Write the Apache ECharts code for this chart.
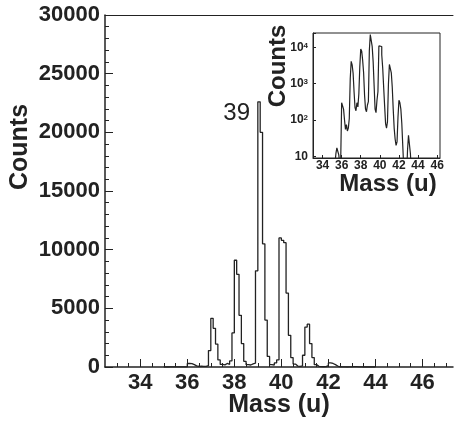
<!DOCTYPE html>
<html lang="en">
<head>
    <meta charset="UTF-8">
    <title>mass-spectrum</title>
    <script src="https://cdn.jsdelivr.net/npm/echarts@6.0.0/dist/echarts.min.js"></script>
    <style>
        body { margin: 0; background: #fff; }
    </style>
</head>
<body>
    <div id="main" style="width: 454px;height:424px;"></div>

    <script>
        // histogram: bins of 0.1 u starting at 35.0 u, one row per unit of mass
        var binStart = 35.0;
        var binWidth = 0.1;
        var counts = [
            1, 2, 3, 6, 12, 17, 16, 11, 6, 7,                              // 35.x
            300, 280, 200, 100, 55, 75, 50, 60, 110, 1400,                 // 36.x
            4150, 3300, 1950, 600, 220, 180, 300, 230, 520, 2900,          // 37.x
            9100, 7900, 4400, 2000, 480, 200, 170, 260, 320, 8200,         // 38.x
            22600, 20000, 10500, 4000, 900, 200, 160, 350, 600, 11000,     // 39.x
            10800, 10600, 6300, 2700, 800, 250, 80, 60, 90, 1000,          // 40.x
            3400, 3650, 2000, 800, 200, 60, 30, 20, 25, 120,               // 41.x
            350, 300, 200, 80, 20, 5, 3, 2, 3, 15,                         // 42.x
            38, 35, 12, 4, 2, 1, 1, 1, 1, 1                                // 43.x
        ];

        // tick labels
        var massLabels = [34, 36, 38, 40, 42, 44, 46];
        var massMinor = [];
        for (var m = 33; m <= 47; m += 0.5) massMinor.push(m);

        // peak annotation
        var peakName = '39';
        var peakNamePos = [38.1, 21600];

        var histPoints = counts.map(function (c, i) {
            return [+(binStart + i * binWidth).toFixed(2), c];
        });
        histPoints.push([+(binStart + counts.length * binWidth).toFixed(2), counts[counts.length - 1]]);

        var ink = '#222';
        var font = 'Liberation Sans';
        var axisLine = { show: true, lineStyle: { color: ink, width: 1.5 } };
        var titleStyle = { fontFamily: font, fontWeight: 'bold', fontSize: 25, color: ink };

        var myChart = echarts.init(document.getElementById('main'));

        var option = {
            animation: false,
            grid: [
                { left: 105, top: 15, right: 1, bottom: 57, containLabel: false, outerBoundsMode: 'none' },
                { left: 313, top: 33, width: 127, height: 125, show: true, containLabel: false, outerBoundsMode: 'none',
                  backgroundColor: '#fff', borderColor: ink, borderWidth: 1 }
            ],
            xAxis: [
                {   // main: minor ticks + line + title
                    type: 'value', gridIndex: 0, position: 'bottom',
                    min: 32.5, max: 47.3,
                    axisLine: axisLine,
                    axisTick: { show: true, inside: true, length: 4, customValues: massMinor, lineStyle: { color: ink } },
                    axisLabel: { show: false },
                    splitLine: { show: false },
                    name: 'Mass (u)', nameLocation: 'middle', nameGap: 26, nameMoveOverlap: false,
                    nameTextStyle: titleStyle
                },
                {   // main: major ticks + labels
                    type: 'value', gridIndex: 0, position: 'bottom',
                    min: 32.5, max: 47.3,
                    axisLine: { show: false },
                    axisTick: { show: true, inside: true, length: 8, customValues: massLabels, lineStyle: { color: ink } },
                    axisLabel: { customValues: massLabels, margin: 5, fontFamily: font, fontWeight: 'bold', fontSize: 22, color: ink },
                    splitLine: { show: false }
                },
                {   // frame top
                    type: 'value', gridIndex: 0, position: 'top',
                    min: 32.5, max: 47.3,
                    axisLine: { show: true, lineStyle: { color: ink, width: 1 } },
                    axisTick: { show: false }, axisLabel: { show: false }, splitLine: { show: false }
                },
                {   // inset
                    type: 'value', gridIndex: 1,
                    min: 33, max: 46.3,
                    axisLine: { show: true, lineStyle: { color: ink, width: 1 } },
                    axisTick: { show: true, inside: true, length: 3, customValues: massLabels, lineStyle: { color: ink } },
                    axisLabel: { customValues: massLabels, margin: 2, fontFamily: font, fontWeight: 'bold', fontSize: 12, color: ink },
                    splitLine: { show: false },
                    name: 'Mass (u)', nameLocation: 'middle', nameGap: 14, nameMoveOverlap: false,
                    nameTextStyle: Object.assign({}, titleStyle, { fontSize: 24, padding: [0, 0, 0, 23] })
                }
            ],
            yAxis: [
                {
                    type: 'value', gridIndex: 0,
                    min: 0, max: 30000, interval: 5000,
                    axisLine: axisLine,
                    axisTick: { show: true, inside: true, length: 8, lineStyle: { color: ink } },
                    minorTick: { show: true, splitNumber: 5, length: 4, lineStyle: { color: ink } },
                    axisLabel: { margin: 5, fontFamily: font, fontWeight: 'bold', fontSize: 22, color: ink,
                                 formatter: function (v) { return String(v); } },
                    splitLine: { show: false },
                    name: 'Counts', nameLocation: 'middle', nameGap: 72, nameMoveOverlap: false,
                    nameTextStyle: Object.assign({}, titleStyle, { padding: [0, 0, 0, 88] })
                },
                {
                    type: 'log', logBase: 10, gridIndex: 1,
                    min: 9, max: 25000,
                    axisLine: { show: true, lineStyle: { color: ink, width: 1 } },
                    axisTick: { show: true, inside: true, length: 3, lineStyle: { color: ink } },
                    axisLabel: {
                        margin: 5, fontFamily: font, fontWeight: 'bold', fontSize: 12, color: ink,
                        formatter: function (v) {
                            var l = Math.log10(v), e = Math.round(l);
                            if (Math.abs(l - e) > 1e-6) return '';
                            return e === 1 ? '10' : '10{sup|' + e + '}';
                        },
                        rich: { sup: { fontFamily: font, fontWeight: 'bold', fontSize: 8, verticalAlign: 'top', color: ink } }
                    },
                    splitLine: { show: false },
                    name: 'Counts', nameLocation: 'middle', nameGap: 23, nameMoveOverlap: false,
                    nameTextStyle: Object.assign({}, titleStyle, { fontSize: 24, padding: [0, 0, 0, 59] })
                }
            ],
            series: [
                {
                    type: 'line', xAxisIndex: 0, yAxisIndex: 0,
                    step: 'end', symbol: 'none',
                    lineStyle: { color: ink, width: 1.3 },
                    data: histPoints,
                    markPoint: {
                        symbol: 'circle', symbolSize: 0,
                        label: { show: true, position: 'inside', formatter: peakName,
                                 fontFamily: font, fontSize: 24, color: ink },
                        data: [{ coord: peakNamePos }]
                    }
                },
                {
                    type: 'line', xAxisIndex: 3, yAxisIndex: 1,
                    step: 'end', symbol: 'none',
                    lineStyle: { color: ink, width: 1.2 },
                    data: histPoints
                }
            ]
        };

        myChart.setOption(option);
    </script>
</body>
</html>
